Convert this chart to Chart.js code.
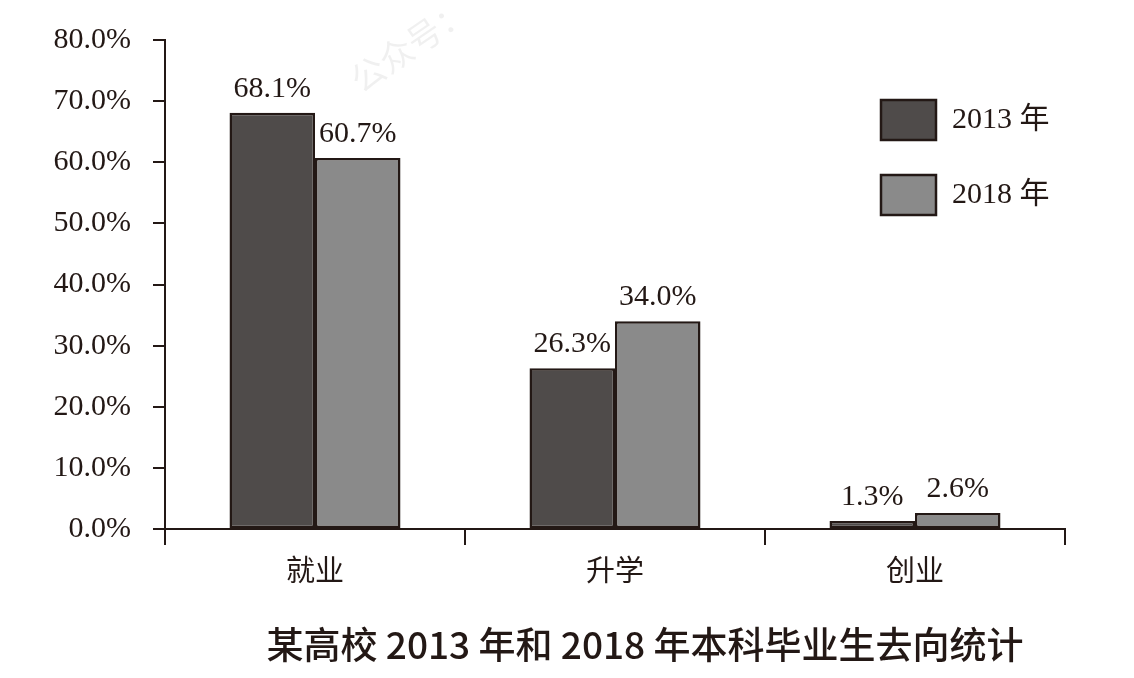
<!DOCTYPE html>
<html>
<head>
<meta charset="utf-8">
<style>
  html, body { margin: 0; padding: 0; background: #fff; }
  #c { display: block; }
</style>
</head>
<body>
<canvas id="c" width="1134" height="678"></canvas>
<script src="https://cdn.jsdelivr.net/npm/chart.js"></script>
<script>
    const categories = ["就业", "升学", "创业"];
    const series2013 = [68.1, 26.3, 1.3];
    const series2018 = [60.7, 34.0, 2.6];
    const seriesNames = ["2013 年", "2018 年"];
    const yTicks = [0, 10, 20, 30, 40, 50, 60, 70, 80];
    const titleText = "某高校 2013 年和 2018 年本科毕业生去向统计";

    const ink = "#231815";
    const serif = "'Liberation Serif', 'Noto Sans CJK SC', serif";
    const cjk = "'Noto Sans CJK SC', 'Liberation Serif', serif";

    // value labels above the bars
    const barLabels = {
        id: "barLabels",
        afterDatasetsDraw(chart) {
            const ctx = chart.ctx;
            ctx.save();
            ctx.font = "30px " + serif;
            ctx.fillStyle = ink;
            ctx.textAlign = "center";
            ctx.textBaseline = "bottom";
            chart.data.datasets.forEach((ds, i) => {
                chart.getDatasetMeta(i).data.forEach((bar, j) => {
                    ctx.fillText(ds.data[j].toFixed(1) + "%", bar.x, bar.y - 9);
                });
            });
            ctx.restore();
        }
    };

    // legend boxes on the right, title under the chart, faint watermark
    const extras = {
        id: "extras",
        afterDraw(chart) {
            const ctx = chart.ctx;
            ctx.save();
            chart.data.datasets.forEach((ds, i) => {
                const y = 100 + i * 75;
                ctx.fillStyle = ds.backgroundColor;
                ctx.fillRect(881, y, 55, 40);
                ctx.strokeStyle = ink;
                ctx.lineWidth = 2.5;
                ctx.strokeRect(881, y, 55, 40);
                ctx.fillStyle = ink;
                ctx.font = "30px " + serif;
                ctx.textAlign = "left";
                ctx.textBaseline = "middle";
                ctx.fillText(ds.label, 952, y + 20);
            });
            ctx.fillStyle = ink;
            ctx.font = "500 37px " + cjk;
            ctx.textAlign = "center";
            ctx.textBaseline = "middle";
            ctx.fillText(titleText, 645, 645);

            ctx.translate(410, 45);
            ctx.rotate(-0.6);
            ctx.fillStyle = "rgba(0,0,0,0.06)";
            ctx.font = "34px " + cjk;
            ctx.textAlign = "center";
            ctx.fillText("公众号：", 0, 0);
            ctx.restore();
        }
    };

    new Chart(document.getElementById("c"), {
        type: "bar",
        data: {
            labels: categories,
            datasets: [
                { label: seriesNames[0], data: series2013, backgroundColor: "#4f4b4a", borderColor: ink, borderWidth: 2.5, borderSkipped: false },
                { label: seriesNames[1], data: series2018, backgroundColor: "#8a8a8a", borderColor: ink, borderWidth: 2.5, borderSkipped: false }
            ]
        },
        options: {
            responsive: false,
            animation: false,
            layout: { padding: { top: 37, right: 69, left: 0, bottom: 0 } },
            categoryPercentage: 0.57,
            barPercentage: 1.0,
            plugins: { legend: { display: false }, tooltip: { enabled: false } },
            scales: {
                x: {
                    afterFit: s => { s.height = 149; },
                    grid: { offset: true, drawOnChartArea: false, color: ink, lineWidth: 2, tickLength: 16 },
                    border: { color: ink, width: 2 },
                    ticks: { color: ink, font: { family: cjk, size: 29 }, padding: 8 }
                },
                y: {
                    min: 0, max: 80,
                    afterFit: s => { s.width = 165; },
                    afterBuildTicks: s => { s.ticks = yTicks.map(v => ({ value: v })); },
                    grid: { drawOnChartArea: false, color: ink, lineWidth: 2, tickLength: 12 },
                    border: { color: ink, width: 2 },
                    ticks: { color: ink, font: { family: serif, size: 30 }, padding: 22, callback: v => v.toFixed(1) + "%" }
                }
            }
        },
        plugins: [barLabels, extras]
    });
</script>
</body>
</html>
